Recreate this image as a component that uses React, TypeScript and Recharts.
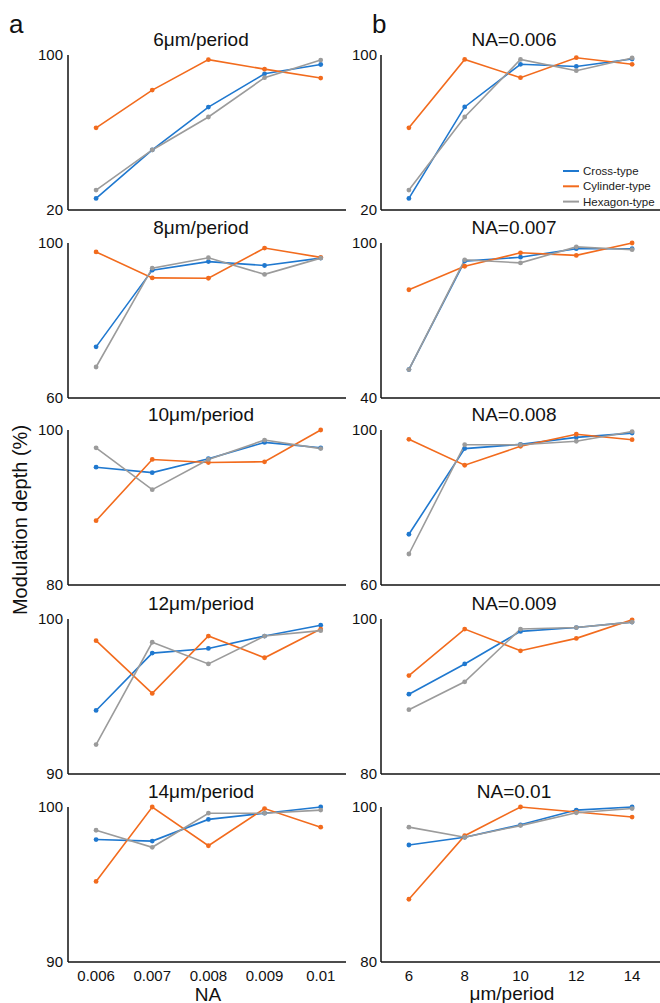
import React from 'react';
import { LineChart, Line, XAxis, YAxis } from 'recharts';

// x categories
const naValues = [0.006, 0.007, 0.008, 0.009, 0.01];
const naTickLabels = ['0.006', '0.007', '0.008', '0.009', '0.01'];
const periods = [6, 8, 10, 12, 14];

// modulation depth (%) — rows: period 6..14, cols: NA 0.006..0.01
const crossType = [
  [26, 51, 73.1, 90.3, 95.1],
  [73.2, 93, 95.2, 94.2, 96.1],
  [95.2, 94.5, 96.3, 98.4, 97.7],
  [94.1, 97.8, 98.1, 98.9, 99.6],
  [97.9, 97.8, 99.2, 99.6, 100],
];
const cylinderType = [
  [62.4, 81.9, 97.6, 92.7, 88.1],
  [97.7, 91, 90.9, 98.7, 96.3],
  [88.3, 96.2, 95.8, 95.9, 100],
  [98.6, 95.2, 98.9, 97.5, 99.35],
  [95.2, 100, 97.5, 99.9, 98.7],
];
const hexagonType = [
  [30.3, 51, 68, 88.3, 97.4],
  [68, 93.5, 96.2, 91.9, 96.1],
  [97.7, 92.3, 96.2, 98.7, 97.6],
  [91.9, 98.5, 97.1, 98.9, 99.25],
  [98.5, 97.4, 99.6, 99.6, 99.8],
];

const periodTitles = ['6μm/period', '8μm/period', '10μm/period', '12μm/period', '14μm/period'];
const naTitles = ['NA=0.006', 'NA=0.007', 'NA=0.008', 'NA=0.009', 'NA=0.01'];
const periodRanges = [[20, 100], [60, 100], [80, 100], [90, 100], [90, 100]];
const naRanges = [[20, 100], [40, 100], [60, 100], [80, 100], [80, 100]];

const seriesNames = ['Cross-type', 'Cylinder-type', 'Hexagon-type'];

const COLORS = { cross: '#1f78cf', cyl: '#f26b1d', hex: '#9b9b9b' };
const FONT = '"Liberation Sans", Arial, Helvetica, sans-serif';
const rowTops = [55, 243, 430, 619, 807];
const PLOT_H = 155;
const TOP_PAD = 10;

const axisStroke = { stroke: '#111', strokeWidth: 1.5 };

const Panel: React.FC<{
  data: any[];
  left: number;
  width: number;
  yWidth: number;
  top: number;
  range: number[];
  xDomain: number[];
  xTicks: number[];
  xFormat: (v: number) => string;
  showXTicks: boolean;
  tickSize: number;
}> = ({ data, left, width, yWidth, top, range, xDomain, xTicks, xFormat, showXTicks, tickSize }) => (
  <div style={{ position: 'absolute', left, top: top - TOP_PAD }}>
    <LineChart width={width} height={TOP_PAD + PLOT_H + 30} data={data} margin={{ top: TOP_PAD, right: 0, bottom: 0, left: 0 }}>
      <XAxis
        type="number"
        dataKey="x"
        domain={xDomain}
        ticks={xTicks}
        interval={0}
        tickFormatter={xFormat}
        tick={showXTicks ? { fontSize: 15, fill: '#111', fontFamily: FONT } : false}
        tickLine={false}
        tickMargin={2}
        axisLine={axisStroke}
        height={30}
      />
      <YAxis
        type="number"
        domain={range}
        ticks={range}
        interval={0}
        tick={{ fontSize: 15, fill: '#111', fontFamily: FONT }}
        tickLine={false}
        tickSize={tickSize}
        tickMargin={0}
        axisLine={axisStroke}
        width={yWidth}
      />
      <Line dataKey="cross" stroke={COLORS.cross} strokeWidth={1.6} dot={{ r: 2.4, fill: COLORS.cross, strokeWidth: 0 }} isAnimationActive={false} />
      <Line dataKey="cyl" stroke={COLORS.cyl} strokeWidth={1.6} dot={{ r: 2.4, fill: COLORS.cyl, strokeWidth: 0 }} isAnimationActive={false} />
      <Line dataKey="hex" stroke={COLORS.hex} strokeWidth={1.6} dot={{ r: 2.4, fill: COLORS.hex, strokeWidth: 0 }} isAnimationActive={false} />
    </LineChart>
  </div>
);

const naFormat = (v: number) => {
  const i = naValues.findIndex((n) => Math.abs(n - v) < 1e-9);
  return i >= 0 ? naTickLabels[i] : '';
};

export default function App() {
  const legendColors = [COLORS.cross, COLORS.cyl, COLORS.hex];
  return (
    <div style={{ position: 'absolute', left: 0, top: 0, width: 660, height: 1003, background: '#fff', fontFamily: FONT, overflow: 'hidden' }}>
      {periodTitles.map((_, i) => (
        <Panel
          key={'a' + i}
          data={naValues.map((x, j) => ({ x, cross: crossType[i][j], cyl: cylinderType[i][j], hex: hexagonType[i][j] }))}
          left={0}
          width={346}
          yWidth={68}
          top={rowTops[i]}
          range={periodRanges[i]}
          xDomain={[0.0055, 0.01045]}
          xTicks={naValues}
          xFormat={naFormat}
          showXTicks={i === 4}
          tickSize={5}
        />
      ))}
      {naTitles.map((_, j) => (
        <Panel
          key={'b' + j}
          data={periods.map((x, i) => ({ x, cross: crossType[i][j], cyl: cylinderType[i][j], hex: hexagonType[i][j] }))}
          left={346}
          width={314}
          yWidth={35}
          top={rowTops[j]}
          range={naRanges[j]}
          xDomain={[5, 15]}
          xTicks={periods}
          xFormat={(v: number) => String(v)}
          showXTicks={j === 4}
          tickSize={4}
        />
      ))}
      <svg width={660} height={1003} style={{ position: 'absolute', left: 0, top: 0, pointerEvents: 'none' }} fontFamily={FONT}>
        <text x={9} y={33} fontSize={26} fill="#111">a</text>
        <text x={372} y={33} fontSize={26} fill="#111">b</text>
        {periodTitles.map((t, i) => (
          <text key={t} x={201} y={rowTops[i] - 9} fontSize={19} fill="#111" textAnchor="middle">{t}</text>
        ))}
        {naTitles.map((t, j) => (
          <text key={t} x={514} y={rowTops[j] - 9} fontSize={19} fill="#111" textAnchor="middle">{t}</text>
        ))}
        <text transform="translate(27,520) rotate(-90)" fontSize={20} fill="#111" textAnchor="middle">Modulation depth (%)</text>
        <text x={208} y={1000.5} fontSize={19} fill="#111" textAnchor="middle">NA</text>
        <text x={512} y={1000} fontSize={19} fill="#111" textAnchor="middle">μm/period</text>
        {seriesNames.map((n, k) => (
          <g key={n}>
            <line x1={563} x2={579} y1={171 + k * 15.3} y2={171 + k * 15.3} stroke={legendColors[k]} strokeWidth={2} />
            <text x={583} y={171 + k * 15.3 + 4} fontSize={11.5} fill="#222">{n}</text>
          </g>
        ))}
      </svg>
    </div>
  );
}
